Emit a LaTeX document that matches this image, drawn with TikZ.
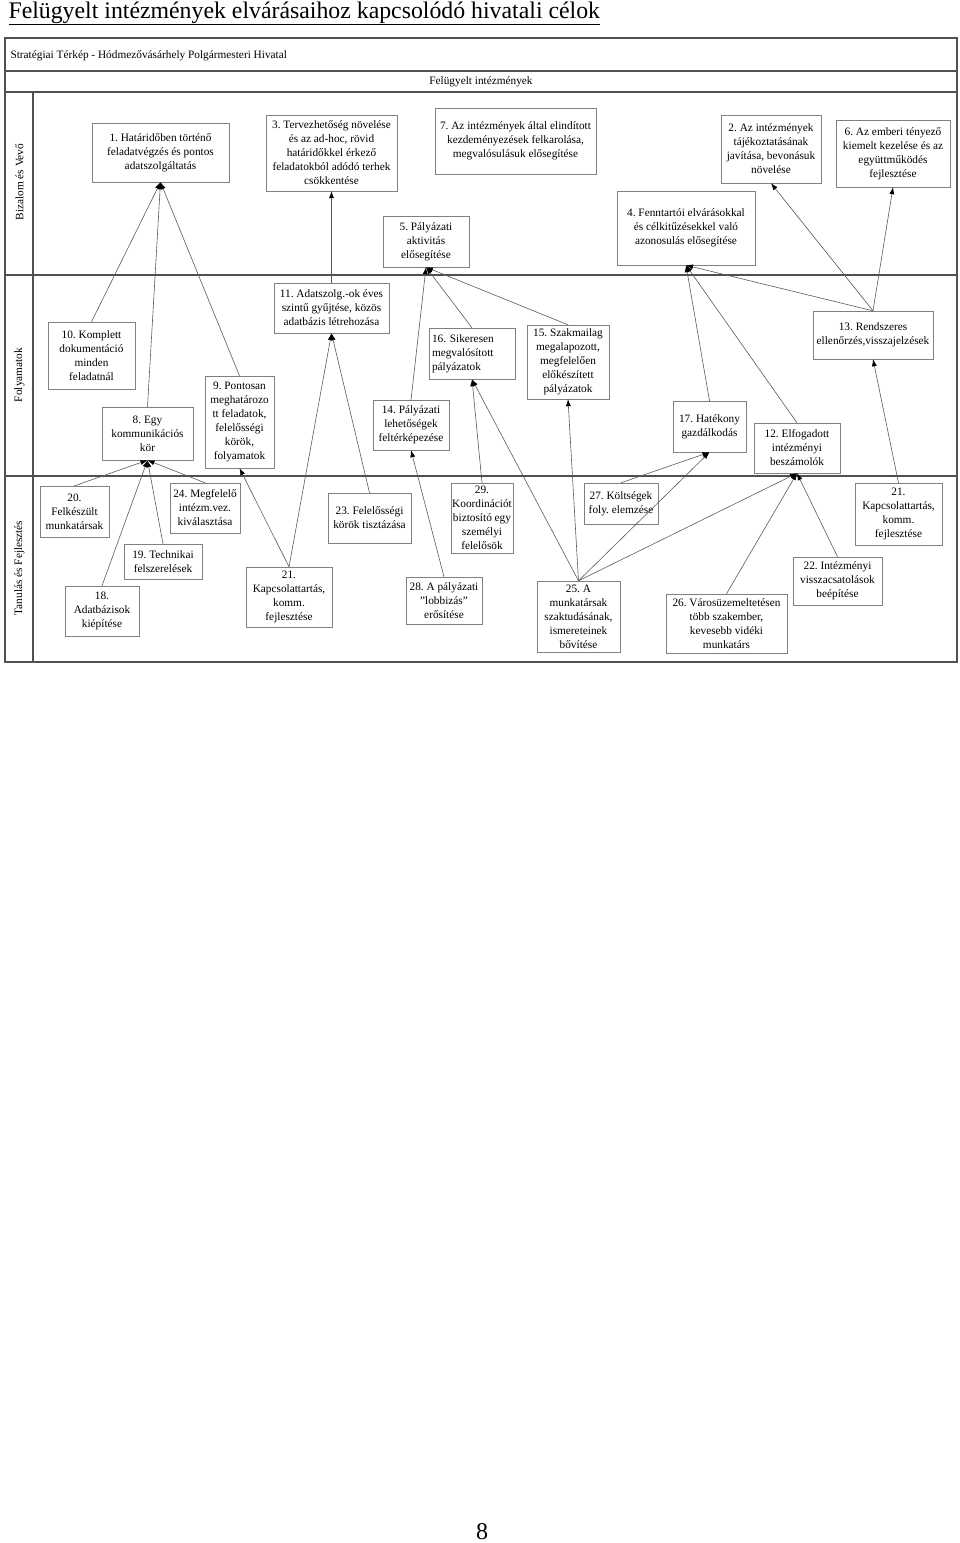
\documentclass[tikz,border=0pt]{standalone}
\usepackage{fontspec}
\setmainfont{Liberation Serif}
\usepackage{tikz}
\usetikzlibrary{arrows.meta}

\definecolor{boxgray}{HTML}{808080}
\definecolor{linkgray}{HTML}{5A5A5A}
\definecolor{framegray}{HTML}{505050}
\newcommand{\boxfont}{\fontsize{11.3}{14}\selectfont\frenchspacing}

\begin{document}
\begin{tikzpicture}[
  x=1pt,y=-1pt,
  goal/.style 2 args={draw=boxgray,fill=white,align=center,inner sep=1pt,
    font=\boxfont,minimum width=#1pt,minimum height=#2pt},
  lane/.style={rotate=90,font=\boxfont},
  frame/.style={draw=framegray,line width=1.2pt},
  link/.style={draw=linkgray,line width=0.6pt,
    -{Latex[length=7pt,width=5pt,color=black]}}]
\useasboundingbox (0,0) rectangle (960,1543);
\node[anchor=base west,font=\fontsize{23.8}{28}\selectfont] (title) at (5,18)
  {\underline{Felügyelt intézmények elvárásaihoz kapcsolódó hivatali célok}};
\node[font=\fontsize{24}{28}\selectfont] (page) at (482,1532) {8};

% frame and lanes
\draw[frame] (5,38) rectangle (957,662);
\draw[frame] (5,71) -- (957,71);
\draw[frame] (5,92) -- (957,92);
\draw[frame] (33,92) -- (33,662);
\draw[frame] (5,275) -- (957,275);
\draw[frame] (5,476) -- (957,476);
\node[anchor=west,font=\boxfont] (head) at (7,56)
  {Stratégiai Térkép - Hódmezővásárhely Polgármesteri Hivatal};
\node[font=\boxfont] (scope) at (481,81.5) {Felügyelt intézmények};
\node[lane] (trust) at (19.5,182) {Bizalom és Vevő};
\node[lane] (process) at (19.5,375) {Folyamatok};
\node[lane] (learn) at (19.5,568) {Tanulás és Fejlesztés};

% Bizalom es Vevo
\node[goal={137}{59}] (g1) at (160.5,152.5)
  {1. Határidőben történő\\feladatvégzés és pontos\\adatszolgáltatás};
\node[goal={131}{76}] (g3) at (331.5,153)
  {3. Tervezhetőség növelése\\és az ad-hoc, rövid\\határidőkkel érkező\\feladatokból adódó terhek\\csökkentése};
\node[goal={161}{66}] (g7) at (515.5,141)
  {7. Az intézmények által elindított\\kezdeményezések felkarolása,\\megvalósulásuk elősegítése};
\node[goal={100}{68}] (g2) at (771,149)
  {2. Az intézmények\\tájékoztatásának\\javítása, bevonásuk\\növelése};
\node[goal={114}{67}] (g6) at (893,153.5)
  {6. Az emberi tényező\\kiemelt kezelése és az\\együttműködés\\fejlesztése};
\node[goal={86}{51}] (g5) at (426,241.5)
  {5. Pályázati\\aktivitás\\elősegítése};
\node[goal={138}{74}] (g4) at (686,228)
  {4. Fenntartói elvárásokkal\\és célkitűzésekkel való\\azonosulás elősegítése};

% Folyamatok
\node[goal={87}{67}] (g10) at (91.5,355.5)
  {10. Komplett\\dokumentáció\\minden\\feladatnál};
\node[goal={91}{53}] (g8) at (147.5,433.5)
  {8. Egy\\kommunikációs\\kör};
\node[goal={69}{92}] (g9) at (239.5,422)
  {9. Pontosan\\meghatározo\\tt feladatok,\\felelősségi\\körök,\\folyamatok};
\node[goal={115}{50}] (g11) at (331.5,308)
  {11. Adatszolg.-ok éves\\szintű gyűjtése, közös\\adatbázis létrehozása};
\node[goal={86}{51},text width=80pt,align=left] (g16) at (472,353.5)
  {16. Sikeresen\\megvalósított\\pályázatok};
\node[goal={82}{74}] (g15) at (568,362)
  {15. Szakmailag\\megalapozott,\\megfelelően\\előkészített\\pályázatok};
\node[goal={76}{50}] (g14) at (411,425)
  {14. Pályázati\\lehetőségek\\feltérképezése};
\node[goal={120}{48}] (g13) at (873,335)
  {13. Rendszeres\\ellenőrzés,visszajelzések};
\node[goal={73}{51}] (g17) at (709.5,426.5)
  {17. Hatékony\\gazdálkodás};
\node[goal={86}{50}] (g12) at (797,448)
  {12. Elfogadott\\intézményi\\beszámolók};

% Tanulas es Fejlesztes
\node[goal={69}{51}] (g20) at (74.5,511.5)
  {20.\\Felkészült\\munkatársak};
\node[goal={70}{50}] (g24) at (205,508)
  {24. Megfelelő\\intézm.vez.\\kiválasztása};
\node[goal={78}{35}] (g19) at (163,561.5)
  {19. Technikai\\felszerelések};
\node[goal={74}{50}] (g18) at (102,611)
  {18.\\Adatbázisok\\kiépítése};
\node[goal={86}{60}] (g21a) at (289,597)
  {21.\\Kapcsolattartás,\\komm.\\fejlesztése};
\node[goal={83}{50}] (g23) at (369.5,518)
  {23. Felelősségi\\körök tisztázása};
\node[goal={60}{70}] (g29) at (482,518)
  {29.\\Koordinációt\\biztosító egy\\személyi\\felelősök};
\node[goal={76}{47}] (g28) at (444,600.5)
  {28. A pályázati\\"lobbizás"\\erősítése};
\node[goal={83}{71}] (g25) at (578.5,616.5)
  {25. A\\munkatársak\\szaktudásának,\\ismereteinek\\bővítése};
\node[goal={74}{41}] (g27) at (621,503.5)
  {27. Költségek\\foly. elemzése};
\node[goal={87}{62}] (g21b) at (898.5,514)
  {21.\\Kapcsolattartás,\\komm.\\fejlesztése};
\node[goal={89}{48}] (g22) at (837.5,581)
  {22. Intézményi\\visszacsatolások\\beépítése};
\node[goal={121}{59}] (g26) at (726.5,623.5)
  {26. Városüzemeltetésen\\több szakember,\\kevesebb vidéki\\munkatárs};

% links
\draw[link] (g10.north) -- (g1.south);
\draw[link] (g8.north) -- (g1.south);
\draw[link] (g9.north) -- (g1.south);
\draw[link] (g11.north) -- (g3.south);
\draw[link] (g14.north) -- (g5.south);
\draw[link] (g16.north) -- (g5.south);
\draw[link] (g15.north) -- (g5.south);
\draw[link] (g17.north) -- (g4.south);
\draw[link] (g12.north) -- (g4.south);
\draw[link] (g13.north) -- (g4.south);
\draw[link] (g13.north) -- (g2.south);
\draw[link] (g13.north) -- (g6.south);
\draw[link] (g20.north) -- (g8.south);
\draw[link] (g18.north) -- (g8.south);
\draw[link] (g19.north) -- (g8.south);
\draw[link] (g24.north) -- (g8.south);
\draw[link] (g21a.north) -- (g9.south);
\draw[link] (g21a.north) -- (g11.south);
\draw[link] (g23.north) -- (g11.south);
\draw[link] (g28.north) -- (g14.south);
\draw[link] (g29.north) -- (g16.south);
\draw[link] (g25.north) -- (g16.south);
\draw[link] (g25.north) -- (g15.south);
\draw[link] (g25.north) -- (g17.south);
\draw[link] (g27.north) -- (g17.south);
\draw[link] (g25.north) -- (g12.south);
\draw[link] (g26.north) -- (g12.south);
\draw[link] (g22.north) -- (g12.south);
\draw[link] (g21b.north) -- (g13.south);
\end{tikzpicture}
\end{document}
